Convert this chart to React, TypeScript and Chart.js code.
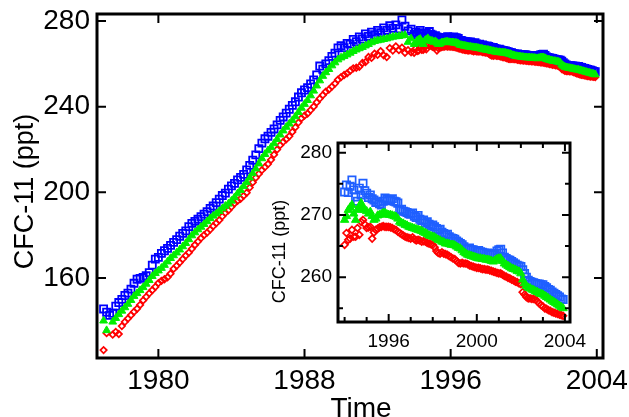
import React, { useEffect, useRef } from "react";
import { Chart, registerables } from "chart.js";

Chart.register(...registerables);

// ---- time axis definition (regular sampling) ----
const EARLY_START = 1977.0;
const EARLY_PER_YEAR = 6;
const LATE_START = 1994.0;
const LATE_PER_YEAR = 12;

// ---- series values (ppt) ----
const blueEarly = [
  145.5, 144.0, 142.5, 143.5, 146.8, 148.5, 150.0, 151.8, 152.9, 154.8,
  157.5, 159.4, 159.8, 160.2, 161.0, 162.5, 166.0, 168.8, 169.6, 171.5,
  172.7, 173.8, 175.2, 176.6, 177.9, 179.5, 180.8, 182.0, 184.0, 185.5,
  186.4, 187.4, 188.6, 189.8, 191.0, 192.5, 193.6, 195.2, 196.8, 198.5,
  199.6, 201.5, 203.0, 204.2, 205.8, 207.0, 208.4, 210.5, 212.6, 215.0,
  217.5, 220.4, 223.0, 225.0, 226.2, 228.0, 229.6, 231.5, 233.6, 235.2,
  237.0, 238.8, 240.6, 242.3, 244.5, 246.5, 247.8, 248.9, 250.6, 252.5,
  254.8, 259.0, 257.5, 260.0, 261.5, 263.5, 265.0, 267.5, 268.5, 267.6,
  269.6, 269.2, 271.4, 270.4, 272.6, 271.6, 274.0, 272.8, 274.8, 273.6,
  275.6, 274.6, 276.8, 275.6, 277.8, 276.6, 278.2, 276.4, 280.5, 277.6,
  275.4, 276.2,
];
const greenEarly = [
  140.0, 135.5, null, 139.5, 141.2, 143.0, 144.6, 146.2, 147.8, 149.6,
  151.5, 152.8, 154.2, 155.6, 157.2, 158.9, 160.8, 162.2, 163.4, 164.6,
  166.0, 167.6, 169.2, 170.5, 171.8, 173.2, 174.7, 176.2, 178.0, 179.8,
  181.2, 182.6, 183.8, 185.1, 186.4, 187.8, 189.0, 190.0, 191.2, 192.4,
  193.6, 194.6, 196.0, 197.6, 199.4, 201.0, 202.8, 204.6, 206.8, 208.8,
  211.0, 213.4, 215.8, 217.8, 219.5, 221.0, 222.8, 224.8, 226.9, 228.8,
  230.5, 232.0, 233.6, 235.4, 237.4, 239.4, 241.2, 243.0, 245.2, 247.4,
  249.8, 252.2, 254.3, 256.0, 257.5, 259.2, 260.6, 262.0, 262.9, 263.6,
  264.3, 265.1, 265.9, 266.6, 267.2, 267.8, 268.5, 269.2, 270.0, 270.6,
  270.9, 271.2, 271.5, 271.8, 272.2, 272.6, 272.8, 272.9, 273.2, 273.4,
  270.2, 271.8,
];
const redEarly = [
  126.3, 134.2, null, 133.5, 134.8, 133.8, 137.5, 139.5, 141.0, 142.6,
  144.2, 145.6, 147.4, 149.5, 151.2, 152.8, 154.3, 155.8, 157.6, 158.6,
  159.4, 160.3, 162.0, 164.2, 165.7, 167.2, 168.8, 170.4, 171.8, 173.6,
  175.4, 177.0, 178.6, 180.0, 181.2, 182.6, 184.2, 185.6, 187.0, 188.8,
  190.4, 191.6, 193.2, 194.8, 196.0, 197.0, 198.4, 199.8, 202.2, 204.6,
  206.8, 208.6, 210.4, 211.8, 213.2, 215.2, 217.6, 220.0, 222.0, 223.6,
  224.8, 226.2, 228.2, 230.4, 232.6, 234.6, 235.8, 236.8, 238.4, 240.0,
  242.0, 243.8, 245.4, 247.0, 248.0, 249.4, 250.8, 252.6, 253.8, 254.8,
  255.6, 256.8, 257.9, 258.2, 258.6, 260.4, 260.8, 263.2, 262.8, 264.8,
  264.2, 266.0, 264.0, 263.2, 267.4, 266.2, 268.2, 266.4, 267.6, 265.2,
  266.4, 265.4,
];

const blueLate = [
  273.7, 274.8, 273.6, 274.6, 275.6, 274.0, 272.9, 272.2, 274.3, 273.2, 275.1, 273.9,
  273.5, 272.8, 273.2, 272.6, 272.4, 272.0, 272.1, 271.8, 271.6, 272.2, 272.7, 272.5,
  272.3, 272.4, 272.6, 272.2, 272.1, 271.9, 270.8, 270.9, 270.6, 270.5, 270.4, 270.2,
  270.1, 270.3, 269.8, 269.6, 269.9, 269.3, 269.1, 269.2, 268.7, 268.9, 268.5, 268.2,
  268.4, 268.1, 267.8, 267.6, 267.7, 267.2, 267.0, 266.8, 266.9, 266.5, 266.3, 266.2,
  266.1, 265.8, 265.6, 265.4, 265.2, 264.9, 264.6, 264.5, 264.7, 264.4, 264.4, 264.3,
  264.2, 264.3, 264.1, 264.0, 263.9, 263.8, 263.9, 263.7, 263.6, 263.6, 263.8, 264.2,
  264.4, 264.5, 263.9, 263.2, 263.0, 262.8, 262.7, 262.5, 262.3, 262.1, 261.9, 261.8,
  261.7, 261.2, 260.6, 260.0, 259.5, 259.3, 259.2, 259.1, 259.0, 258.9, 258.9, 258.8,
  258.8, 258.5, 258.3, 258.0, 257.9, 257.6, 257.4, 257.2, 257.0, 256.8, 256.5, 256.4,
];
const greenLate = [
  269.2, 269.8, 270.8, 271.2, 271.6, 270.2, 269.2, 270.8, 271.4, 271.9, 271.0, 270.8,
  270.6, 270.2, 270.5, 269.8, 269.2, 269.4, 269.9, 270.0, 270.1, 270.3, 270.3, 270.1,
  270.0, 270.0, 269.9, 269.8, 269.7, 269.4, 268.9, 268.7, 268.6, 268.4, 268.3, 268.1,
  268.0, 267.9, 267.8, 267.7, 267.6, 267.5, 267.4, 267.2, 267.1, 266.9, 266.7, 266.6,
  266.5, 266.4, 266.2, 266.0, 265.9, 265.7, 265.6, 265.4, 265.4, 265.3, 265.2, 265.2,
  265.1, 264.9, 264.7, 264.6, 264.3, 264.0, 263.8, 263.6, 263.5, 263.4, 263.3, 263.2,
  263.1, 263.0, 263.0, 262.9, 262.9, 262.8, 262.8, 262.7, 262.6, 262.5, 262.7, 262.9,
  263.0, 263.0, 262.6, 262.2, 262.0, 261.8, 261.6, 261.4, 261.3, 261.2, 261.0, 260.9,
  260.6, 259.6, 259.0, 258.6, 258.3, 258.2, 258.0, 257.9, 257.7, 257.6, 257.4, 257.3,
  257.2, 257.0, 256.8, 256.6, 256.4, 256.2, 256.0, 255.8, 255.6, 255.4, 255.2, 255.0,
];
const redLate = [
  265.2, 267.1, 266.0, 266.2, 267.6, 266.5, 266.5, 267.9, 266.8, 268.9, 269.2, 268.5,
  267.9, 268.0, 268.1, 266.2, 267.2, 267.6, 267.8, 268.0, 268.1, 268.2, 268.1, 268.1,
  268.1, 268.0, 267.9, 267.7, 267.6, 267.3, 267.1, 266.9, 266.7, 266.5, 266.4, 266.3,
  266.2, 266.4, 266.1, 265.9, 266.0, 265.9, 265.7, 265.8, 265.7, 265.5, 265.4, 265.3,
  265.2, 264.8, 264.2, 263.9, 263.8, 264.0, 263.8, 263.7, 263.6, 263.4, 263.2, 263.0,
  262.9, 262.6, 262.3, 262.2, 262.3, 262.2, 262.2, 262.1, 261.9, 261.8, 261.7, 261.6,
  261.5, 261.5, 261.4, 261.3, 261.3, 261.2, 261.2, 261.1, 261.0, 260.9, 260.8, 260.7,
  260.6, 260.6, 260.4, 260.2, 260.1, 259.9, 259.8, 259.6, 259.5, 259.3, 259.2, 259.0,
  258.9, 257.6, 257.2, 256.8, 256.6, 256.6, 256.5, 256.5, 256.4, 256.1, 255.8, 255.5,
  255.3, 255.0, 254.9, 254.7, 254.6, 254.4, 254.3, 254.2, 254.1, 254.0, 253.9, 253.8,
];

// ---- tick labels ----
const mainXTicks = [1980, 1988, 1996, 2004];
const mainYTicks = [160, 200, 240, 280];
const insetXMajor = [1996, 2000, 2004];
const insetXMinor = [1994, 1995, 1997, 1998, 1999, 2001, 2002, 2003];
const insetYMajor = [260, 270, 280];
const insetYMinor = [255, 265, 275];

const yTitle = "CFC-11 (ppt)";
const xTitle = "Time";

const FONT = "'Liberation Sans', Arial, Helvetica, sans-serif";

function toPoints(start: number, perYear: number, values: (number | null)[]) {
  return values
    .map((v, i) => ({ x: start + i / perYear, y: v }))
    .filter((p) => p.y !== null) as { x: number; y: number }[];
}

type TitleSpec = { text: string; x: number; y: number; rot: number; size: number };

function framePlugin(cfg: {
  xMajor: number[];
  xMinor: number[];
  yMajor: number[];
  yMinor: number[];
  major: number;
  minor: number;
  frameWidth: number;
  tickWidth: number;
  titles: TitleSpec[];
}) {
  return {
    id: "frameTicks",
    afterDatasetsDraw(chart: any) {
      const { ctx, chartArea: a } = chart;
      const xs = chart.scales.x;
      const ys = chart.scales.y;
      ctx.save();
      ctx.strokeStyle = "#000";
      ctx.lineWidth = cfg.tickWidth;
      ctx.lineCap = "butt";
      const xTick = (v: number, len: number) => {
        const px = xs.getPixelForValue(v);
        ctx.beginPath();
        ctx.moveTo(px, a.bottom);
        ctx.lineTo(px, a.bottom - len);
        ctx.moveTo(px, a.top);
        ctx.lineTo(px, a.top + len);
        ctx.stroke();
      };
      const yTick = (v: number, len: number) => {
        const py = ys.getPixelForValue(v);
        ctx.beginPath();
        ctx.moveTo(a.left, py);
        ctx.lineTo(a.left + len, py);
        ctx.moveTo(a.right, py);
        ctx.lineTo(a.right - len, py);
        ctx.stroke();
      };
      cfg.xMajor.forEach((v) => xTick(v, cfg.major));
      cfg.xMinor.forEach((v) => xTick(v, cfg.minor));
      cfg.yMajor.forEach((v) => yTick(v, cfg.major));
      cfg.yMinor.forEach((v) => yTick(v, cfg.minor));
      ctx.lineWidth = cfg.frameWidth;
      ctx.strokeRect(a.left, a.top, a.right - a.left, a.bottom - a.top);
      ctx.restore();
    },
    afterDraw(chart: any) {
      const { ctx } = chart;
      ctx.save();
      ctx.fillStyle = "#000";
      cfg.titles.forEach((t) => {
        ctx.save();
        ctx.translate(t.x, t.y);
        ctx.rotate(t.rot);
        ctx.font = `${t.size}px ${FONT}`;
        ctx.textAlign = "center";
        ctx.textBaseline = "alphabetic";
        ctx.fillText(t.text, 0, 0);
        ctx.restore();
      });
      ctx.restore();
    },
  };
}

export default function App() {
  const mainRef = useRef<HTMLCanvasElement>(null);
  const insetRef = useRef<HTMLCanvasElement>(null);

  useEffect(() => {
    Chart.defaults.font.family = FONT;

    const mainChart = new Chart(mainRef.current as HTMLCanvasElement, {
      type: "scatter",
      data: {
        datasets: [
          {
            label: "green",
            data: [
              ...toPoints(EARLY_START, EARLY_PER_YEAR, greenEarly),
              ...toPoints(LATE_START, LATE_PER_YEAR, greenLate),
            ],
            pointStyle: "triangle",
            pointRadius: 4.5,
            borderColor: "#00ee00",
            backgroundColor: "#00ee00",
            borderWidth: 1,
          },
          {
            label: "blue",
            data: [
              ...toPoints(EARLY_START, EARLY_PER_YEAR, blueEarly),
              ...toPoints(LATE_START, LATE_PER_YEAR, blueLate),
            ],
            pointStyle: "rect",
            pointRadius: 5,
            borderColor: "#0000ff",
            backgroundColor: "rgba(0,0,0,0)",
            borderWidth: 1.8,
          },
          {
            label: "red",
            data: [
              ...toPoints(EARLY_START, EARLY_PER_YEAR, redEarly),
              ...toPoints(LATE_START, LATE_PER_YEAR, redLate),
            ],
            pointStyle: "rectRot",
            pointRadius: 3.2,
            borderColor: "#ff0000",
            backgroundColor: "rgba(0,0,0,0)",
            borderWidth: 1.7,
          },
        ],
      } as any,
      options: {
        responsive: false,
        animation: false,
        devicePixelRatio: 1,
        events: [],
        layout: { padding: { top: 14, right: 26, left: 0, bottom: 0 } },
        plugins: { legend: { display: false }, tooltip: { enabled: false } },
        scales: {
          x: {
            type: "linear",
            min: 1976.64,
            max: 2004.34,
            grid: { display: false, drawTicks: false },
            border: { display: false },
            ticks: {
              font: { family: FONT, size: 28 },
              color: "#000",
              padding: 6,
              maxRotation: 0,
              autoSkip: false,
              callback: (v: any) => String(v),
            },
            afterBuildTicks: (s: any) => {
              s.ticks = mainXTicks.map((v) => ({ value: v }));
            },
            afterFit: (s: any) => {
              s.height = 59;
              s.paddingLeft = 0;
              s.paddingRight = 0;
            },
          },
          y: {
            type: "linear",
            min: 122.6,
            max: 283.3,
            grid: { display: false, drawTicks: false },
            border: { display: false },
            ticks: {
              font: { family: FONT, size: 28 },
              color: "#000",
              padding: 7,
              autoSkip: false,
              callback: (v: any) => String(v),
            },
            afterBuildTicks: (s: any) => {
              s.ticks = mainYTicks.map((v) => ({ value: v }));
            },
            afterFit: (s: any) => {
              s.width = 97;
              s.paddingTop = 0;
              s.paddingBottom = 0;
            },
          },
        },
      } as any,
      plugins: [
        framePlugin({
          xMajor: mainXTicks,
          xMinor: [],
          yMajor: mainYTicks,
          yMinor: [],
          major: 9,
          minor: 0,
          frameWidth: 3,
          tickWidth: 2,
          titles: [
            { text: yTitle, x: 33, y: 191.5, rot: -Math.PI / 2, size: 27 },
            { text: xTitle, x: 361, y: 417, rot: 0, size: 28 },
          ],
        }) as any,
      ],
    });

    const insetChart = new Chart(insetRef.current as HTMLCanvasElement, {
      type: "scatter",
      data: {
        datasets: [
          {
            label: "green",
            data: toPoints(LATE_START, LATE_PER_YEAR, greenLate),
            pointStyle: "triangle",
            pointRadius: 4.8,
            borderColor: "#00ee00",
            backgroundColor: "#00ee00",
            borderWidth: 1,
          },
          {
            label: "blue",
            data: toPoints(LATE_START, LATE_PER_YEAR, blueLate),
            pointStyle: "rect",
            pointRadius: 5.2,
            borderColor: "#1f5fff",
            backgroundColor: "rgba(0,0,0,0)",
            borderWidth: 1.7,
          },
          {
            label: "red",
            data: toPoints(LATE_START, LATE_PER_YEAR, redLate),
            pointStyle: "rectRot",
            pointRadius: 3.4,
            borderColor: "#ff0000",
            backgroundColor: "rgba(0,0,0,0)",
            borderWidth: 1.7,
          },
        ],
      } as any,
      options: {
        responsive: false,
        animation: false,
        devicePixelRatio: 1,
        events: [],
        layout: { padding: { top: 13, right: 22, left: 0, bottom: 0 } },
        plugins: { legend: { display: false }, tooltip: { enabled: false } },
        scales: {
          x: {
            type: "linear",
            min: 1993.7,
            max: 2004.23,
            grid: { display: false, drawTicks: false },
            border: { display: false },
            ticks: {
              font: { family: FONT, size: 19 },
              color: "#000",
              padding: 8,
              maxRotation: 0,
              autoSkip: false,
              callback: (v: any) => String(v),
            },
            afterBuildTicks: (s: any) => {
              s.ticks = insetXMajor.map((v) => ({ value: v }));
            },
            afterFit: (s: any) => {
              s.height = 33;
              s.paddingLeft = 0;
              s.paddingRight = 0;
            },
          },
          y: {
            type: "linear",
            min: 252.8,
            max: 281.56,
            grid: { display: false, drawTicks: false },
            border: { display: false },
            ticks: {
              font: { family: FONT, size: 19 },
              color: "#000",
              padding: 6,
              autoSkip: false,
              callback: (v: any) => String(v),
            },
            afterBuildTicks: (s: any) => {
              s.ticks = insetYMajor.map((v) => ({ value: v }));
            },
            afterFit: (s: any) => {
              s.width = 76;
              s.paddingTop = 0;
              s.paddingBottom = 0;
            },
          },
        },
      } as any,
      plugins: [
        framePlugin({
          xMajor: insetXMajor,
          xMinor: insetXMinor,
          yMajor: insetYMajor,
          yMinor: insetYMinor,
          major: 8,
          minor: 5,
          frameWidth: 3,
          tickWidth: 2,
          titles: [{ text: yTitle, x: 23, y: 121.5, rot: -Math.PI / 2, size: 18 }],
        }) as any,
      ],
    });

    return () => {
      mainChart.destroy();
      insetChart.destroy();
    };
  }, []);

  return (
    <div
      style={{
        position: "fixed",
        left: 0,
        top: 0,
        width: 629,
        height: 417,
        background: "#fff",
        overflow: "hidden",
      }}
    >
      <canvas
        ref={mainRef}
        width={629}
        height={417}
        style={{ position: "absolute", left: 0, top: 0, width: 629, height: 417 }}
      />
      <canvas
        ref={insetRef}
        width={330}
        height={225}
        style={{ position: "absolute", left: 262, top: 130, width: 330, height: 225 }}
      />
    </div>
  );
}
